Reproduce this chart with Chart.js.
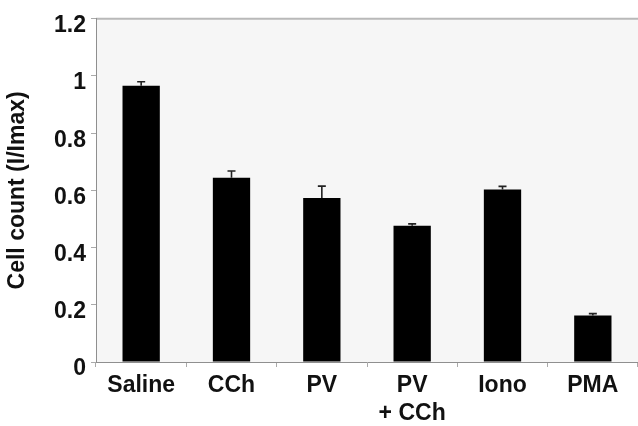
<!DOCTYPE html>
<html>
<head>
<meta charset="utf-8">
<script src="https://cdn.jsdelivr.net/npm/chart.js@4.4.0/dist/chart.umd.min.js"></script>
<style>
  html, body { margin: 0; padding: 0; background: #ffffff; }
  #wrap { width: 638px; height: 426px; }
</style>
</head>
<body>
<div id="wrap"><canvas id="c" width="638" height="426"></canvas></div>
<script>
// Data
const categories = ["Saline", "CCh", "PV", ["PV", "+ CCh"], "Iono", "PMA"];
const values = [0.966, 0.644, 0.573, 0.476, 0.603, 0.163];
const errors = [0.014, 0.024, 0.042, 0.007, 0.011, 0.006];
const yTicks = [0, 0.2, 0.4, 0.6, 0.8, 1, 1.2];
const yTitle = "Cell count (I/Imax)";

const FONT = "'Liberation Sans', Arial, Helvetica, sans-serif";

const framePlugin = {
  id: 'frame',
  beforeDraw(chart) {
    const { ctx, chartArea: a } = chart;
    ctx.save();
    ctx.fillStyle = '#f6f6f6';
    ctx.fillRect(a.left, a.top, a.right - a.left, a.bottom - a.top);
    ctx.strokeStyle = '#b9b9b9';
    ctx.lineWidth = 2;
    ctx.beginPath();
    ctx.moveTo(a.left, a.top);
    ctx.lineTo(a.right, a.top);
    ctx.stroke();
    ctx.restore();
  }
};

const errorBarPlugin = {
  id: 'errorBars',
  afterDatasetsDraw(chart) {
    const { ctx } = chart;
    const meta = chart.getDatasetMeta(0);
    const y = chart.scales.y;
    ctx.save();
    ctx.strokeStyle = '#222';
    ctx.lineWidth = 1.6;
    meta.data.forEach((bar, i) => {
      const top = y.getPixelForValue(values[i]);
      const hi = y.getPixelForValue(values[i] + errors[i]);
      ctx.beginPath();
      ctx.moveTo(bar.x, top);
      ctx.lineTo(bar.x, hi);
      ctx.moveTo(bar.x - 4, hi);
      ctx.lineTo(bar.x + 4, hi);
      ctx.stroke();
    });
    ctx.restore();
  }
};

new Chart(document.getElementById('c'), {
  type: 'bar',
  data: {
    labels: categories,
    datasets: [{
      data: values,
      backgroundColor: '#000000',
      borderColor: '#000000',
      borderWidth: 0,
      categoryPercentage: 1.0,
      barPercentage: 0.413
    }]
  },
  options: {
    responsive: false,
    animation: false,
    devicePixelRatio: 1,
    layout: { padding: { top: 15, right: -10, left: 0, bottom: 0 } },
    plugins: { legend: { display: false }, tooltip: { enabled: false } },
    scales: {
      x: {
        offset: true,
        grid: { display: true, offset: true, drawOnChartArea: false, color: '#aaaaaa', tickLength: 5, tickWidth: 1 },
        border: { display: true, color: '#8f8f8f', width: 1 },
        ticks: { color: '#111', font: { family: FONT, size: 23, weight: 'bold', lineHeight: 1.22 }, padding: 5, maxRotation: 0, autoSkip: false },
        afterFit(s) { s.height = 64; }
      },
      y: {
        min: 0, max: 1.2,
        afterBuildTicks(s) { s.ticks = yTicks.map(v => ({ value: v })); },
        grid: { display: true, drawOnChartArea: false, color: '#aaaaaa', tickLength: 5 },
        border: { display: true, color: '#8f8f8f', width: 1 },
        ticks: {
          color: '#111', font: { family: FONT, size: 23, weight: 'bold' }, padding: 5, labelOffset: 7,
          callback: v => String(+Number(v).toFixed(1))
        },
        title: { display: true, text: yTitle, color: '#111', font: { family: FONT, size: 23, weight: 'bold' }, padding: { top: 4, bottom: 0 } },
        afterFit(s) { s.width = 96; }
      }
    }
  },
  plugins: [framePlugin, errorBarPlugin]
});
</script>
</body>
</html>
